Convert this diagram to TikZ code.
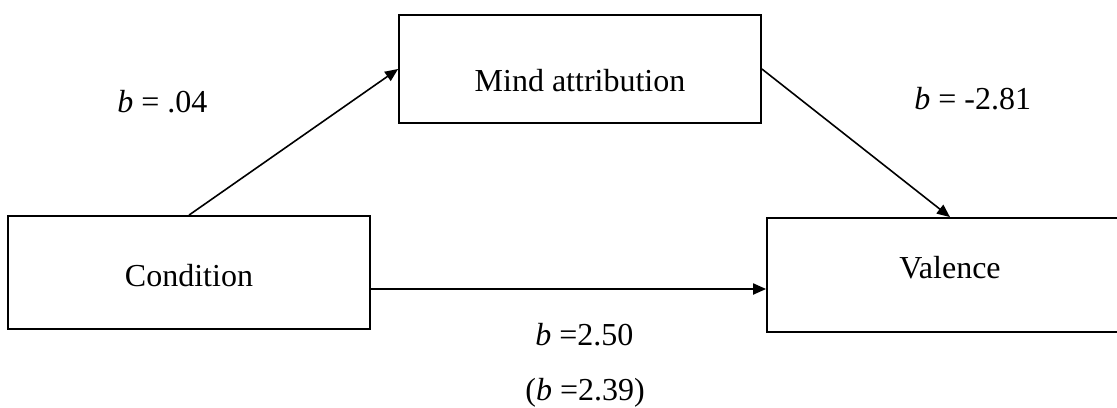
\documentclass[tikz,border=0pt]{standalone}
\usepackage{fontspec}
\setmainfont{Liberation Serif}
\usetikzlibrary{arrows.meta}
\begin{document}
\begin{tikzpicture}[x=0.5pt,y=-0.5pt,
  font=\fontsize{16}{19}\selectfont,
  box/.style={draw=black, line width=0.9pt, rectangle, inner sep=0pt, text depth=0pt},
  arr/.style={draw=black, line width=0.8pt, -{Triangle[length=6.5pt,width=5.5pt]}},
  lbl/.style={anchor=base west, inner sep=0pt}]
\useasboundingbox (0,0) rectangle (1117,407);
\clip (0,0) rectangle (1117,407);
\fill[white] (0,0) rectangle (1117,407);
\node[box, minimum width=181pt, minimum height=56.5pt, text height=13.5pt] (cond) at (189,272.5) {Condition};
\node[box, minimum width=181pt, minimum height=54pt, text height=22pt] (mind) at (580,69) {Mind attribution};
\node[box, minimum width=183pt, minimum height=57pt, text height=3pt] (val) at (950,275) {Valence};
\draw[arr] (cond.north) -- (mind.west);
\draw[arr] (mind.east) -- (val.north);
\coordinate (h) at ([yshift=-8.25pt]cond.east);
\draw[arr, line width=1pt] (h) -- (h -| val.west);
\node[lbl] (l1) at (117,112) {\textit{b} = .04};
\node[lbl] (l2) at (914,109) {\textit{b} = -2.81};
\node[lbl] (l3) at (535,345) {\textit{b} =2.50};
\node[lbl] (l4) at (525,400) {(\textit{b} =2.39)};
\end{tikzpicture}
\end{document}
